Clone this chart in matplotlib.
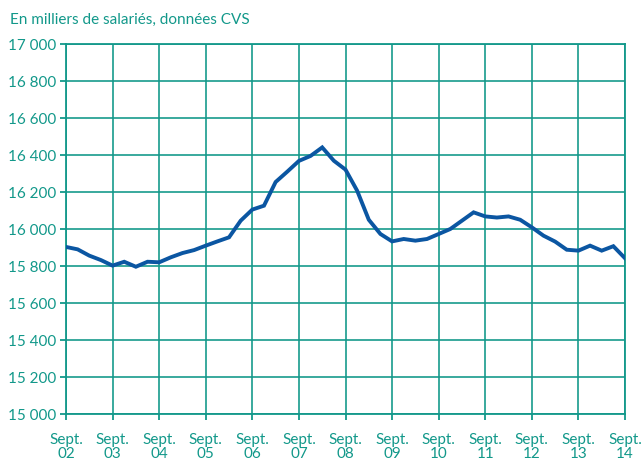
import matplotlib.pyplot as plt
import numpy as np

# effectifs salariés, trimestriels, sept. 2002 -> sept. 2014
years = ["02", "03", "04", "05", "06", "07", "08", "09", "10", "11", "12", "13", "14"]
values = [15903, 15890, 15856, 15832, 15802, 15823, 15796, 15823, 15820, 15847,
          15870, 15886, 15910, 15933, 15955, 16045, 16105, 16126, 16254, 16310,
          16368, 16395, 16441, 16369, 16321, 16207, 16050, 15973, 15933, 15946,
          15937, 15946, 15973, 16000, 16045, 16090, 16068, 16062, 16068, 16050,
          16009, 15964, 15932, 15888, 15883, 15910, 15883, 15907, 15842]

teal = "#12988a"
blue = "#0b56a2"

plt.rcParams['font.family'] = ['Lato', 'DejaVu Sans']

fig = plt.figure(figsize=(6.41, 4.60), dpi=100)
ax = fig.add_axes([66/641, 45/460, (625-66)/641, (415-45)/460])

x = np.arange(len(values)) / 4.0
ax.plot(x, values, color=blue, lw=2.8, solid_joinstyle='miter', zorder=3)

ax.set_xlim(0, len(years) - 1)
ax.set_ylim(15000, 17000)
ax.set_xticks(range(len(years)))
ax.set_xticklabels(["Sept.\n" + y for y in years])
yt = np.arange(15000, 17001, 200)
ax.set_yticks(yt)
ax.set_yticklabels(["{:,}".format(v).replace(",", " ") for v in yt])

ax.grid(True, color=teal, lw=1.3, alpha=0.9)
ax.set_axisbelow(True)
for s in ax.spines.values():
    s.set_color(teal)
    s.set_linewidth(1.3)
ax.tick_params(colors=teal, labelcolor=teal, labelsize=11, length=4, width=1.3)
ax.tick_params(axis='y', pad=3)
ax.tick_params(axis='x', pad=9)
for lab in ax.get_xticklabels():
    lab.set_linespacing(1.0)

fig.text(10/641, 1 - 20/460, "En milliers de salariés, données CVS", color=teal,
         fontsize=11, va='center', ha='left')

fig.savefig("out.png", dpi=100)
